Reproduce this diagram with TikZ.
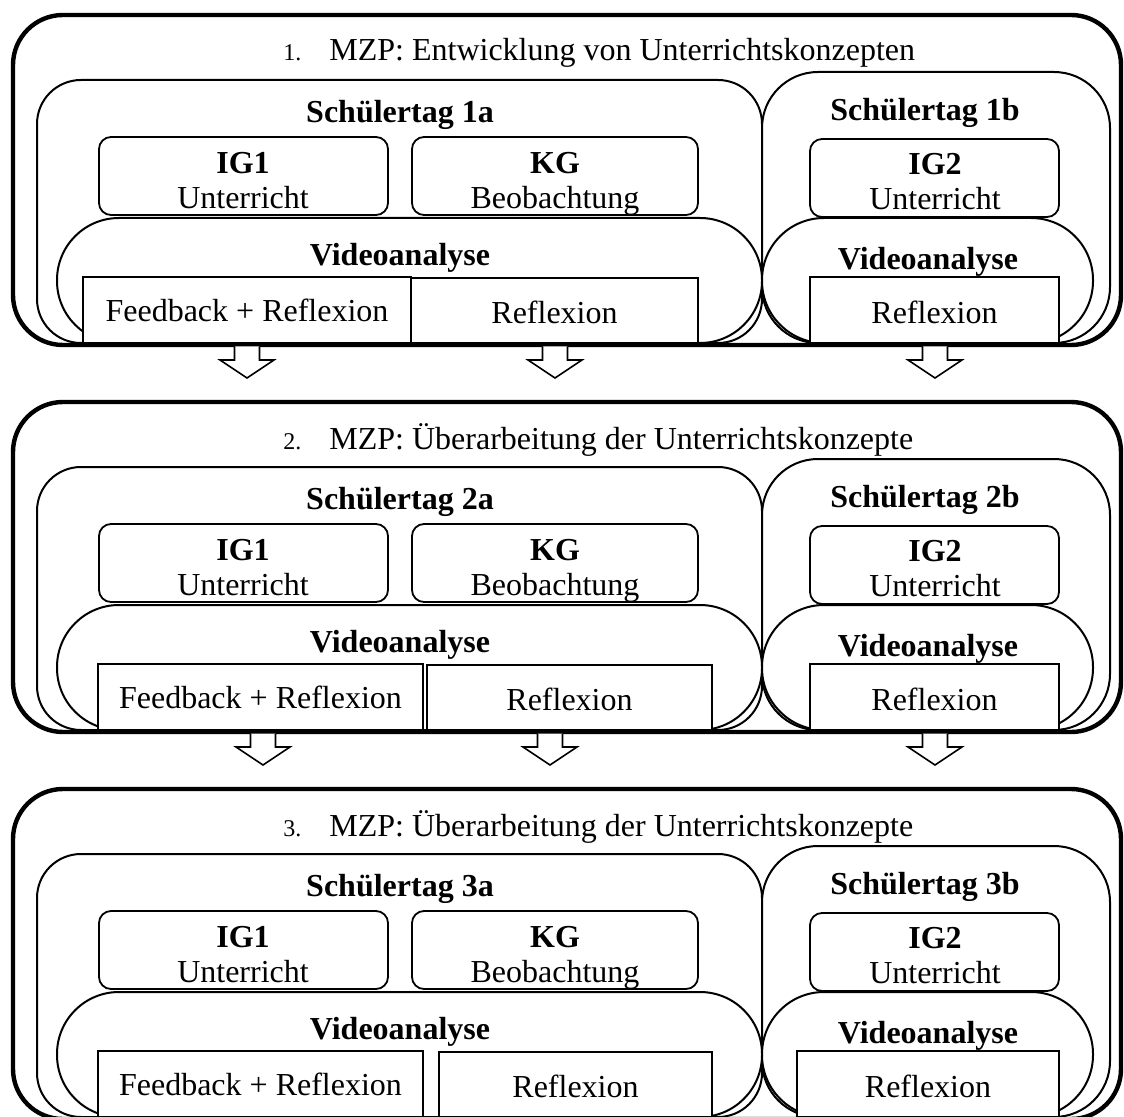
\documentclass[tikz,border=0pt]{standalone}
\usepackage{fontspec}
\setmainfont{Liberation Serif}
\tikzset{
  rahmen/.style = {line width=2.2pt, rounded corners=25pt},
  tagbox/.style = {draw, fill=white, line width=1pt},
  videobox/.style = {draw, fill=white, line width=1pt, rounded corners=31pt},
  gruppe/.style = {draw, fill=white, line width=0.9pt, rounded corners=6pt},
  phase/.style = {draw, fill=white, line width=0.9pt},
  pfeil/.style = {draw, fill=white, line width=0.8pt},
  txt/.style = {inner sep=0pt, align=center, font=\fontsize{16}{17.5}\selectfont}
}
\begin{document}
\begin{tikzpicture}[x=0.5pt, y=-0.5pt]
\useasboundingbox (0,0) rectangle (1124,1117);
\foreach \n/\dy/\titel/\fl/\fr/\rl/\rr/\bl in {
  1/0/Entwicklung von Unterrichtskonzepten/83/411/411/698/810,
  2/387/Überarbeitung der Unterrichtskonzepte/98/423/427/712/810,
  3/774/Überarbeitung der Unterrichtskonzepte/98/423/439/712/797}
{
\begin{scope}[shift={(0,\dy)}]
% Schuelertage
\draw[tagbox, rounded corners=22pt] (37,80) rectangle (762,343);
\draw[tagbox, rounded corners=28pt] (762,72) rectangle (1110,343);
\draw[videobox] (57,218) rectangle (762,343);
\draw[videobox] (762,218) rectangle (1093,343);
% Gruppen
\draw[gruppe] (99,137) rectangle (388,215);
\draw[gruppe] (412,137) rectangle (698,215);
\draw[gruppe] (810,139) rectangle (1059,217);
% Videoanalyse
\draw[phase] (\fl,277) rectangle (\fr,343);
\draw[phase] (\rl,278) rectangle (\rr,343);
\draw[phase] (\bl,277) rectangle (1059,343);
% Texte
\node[txt, anchor=west] (titel\n) at (283,53) {{\fontsize{12}{14}\selectfont \n.}\hspace{14pt}MZP: \titel};
\node[txt, font=\fontsize{16}{17.5}\selectfont\bfseries] (tagA\n) at (400,115) {Schülertag \n a};
\node[txt, font=\fontsize{16}{17.5}\selectfont\bfseries] (tagB\n) at (925,113) {Schülertag \n b};
\node[txt] (ig1\n) at (243,184) {\textbf{IG1}\\Unterricht\vphantom{g}};
\node[txt] (kg\n) at (555,184) {\textbf{KG}\\Beobachtung};
\node[txt] (ig2\n) at (935,185) {\textbf{IG2}\\Unterricht\vphantom{g}};
\node[txt, font=\fontsize{16}{17.5}\selectfont\bfseries] (vidA\n) at (400,258) {Videoanalyse};
\node[txt, font=\fontsize{16}{17.5}\selectfont\bfseries] (vidB\n) at (928,262) {Videoanalyse};
\node[txt] (fb\n) at ({(\fl+\fr)/2},310) {Feedback + Reflexion};
\node[txt] (reA\n) at ({(\rl+\rr)/2},312) {Reflexion};
\node[txt] (reB\n) at ({(\bl+1059)/2},312) {Reflexion};
% Messzeitpunkt
\draw[rahmen] (13,15) rectangle (1121,345);
\end{scope}
}
% Pfeile zwischen den MZP
\foreach \dy/\xa/\xb in {0/247/555, 387/263/550}
  \foreach \cx in {\xa,\xb,935}
    \draw[pfeil, shift={(\cx,\dy)}] (-12.5,346.5) -- (-12.5,360) -- (-27,360) -- (0,378)
      -- (27,360) -- (12.5,360) -- (12.5,346.5);
\end{tikzpicture}
\end{document}
